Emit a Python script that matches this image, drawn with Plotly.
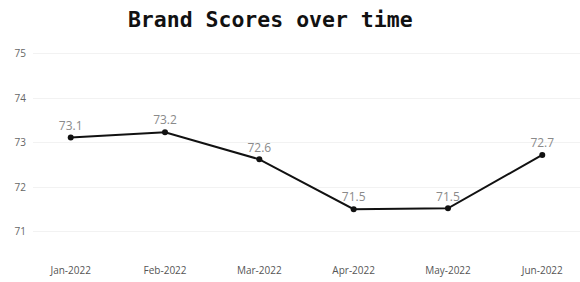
import plotly.graph_objects as go

months = ["Jan-2022", "Feb-2022", "Mar-2022", "Apr-2022", "May-2022", "Jun-2022"]
scores = [73.12, 73.24, 72.63, 71.51, 71.53, 72.73]
labels = ["73.1", "73.2", "72.6", "71.5", "71.5", "72.7"]
y_ticks = [71, 72, 73, 74, 75]

fig = go.Figure(go.Scatter(
    x=months, y=scores, mode="lines+markers+text",
    text=labels, textposition="top center",
    textfont=dict(family="Open Sans", size=12, color="#8a8a8a"),
    line=dict(color="#111111", width=2),
    marker=dict(color="#111111", size=6),
    cliponaxis=False,
))

fig.update_layout(
    width=580, height=282,
    margin=dict(l=33, r=0, t=45, b=27),
    paper_bgcolor="white", plot_bgcolor="white",
    showlegend=False,
    title=dict(text="<b>Brand Scores over time</b>", x=0.466, xanchor="center", y=0.93, yanchor="middle",
               font=dict(family="DejaVu Sans Mono", size=21.5, color="#111111")),
    font=dict(family="Open Sans", size=10, color="#666666"),
)
fig.update_xaxes(range=[-0.4, 5.4], showgrid=False, showline=False, zeroline=False,
                 ticks="", ticklabelstandoff=8, tickfont=dict(size=10, color="#555555"))
fig.update_yaxes(range=[70.48, 75.2], tickvals=y_ticks, showgrid=True, gridcolor="#f2f2f2",
                 zeroline=False, showline=False, ticks="", ticklabelstandoff=6,
                 tickfont=dict(size=10, color="#666666"))

fig.write_html("out.html", config={"displayModeBar": False},
               post_script="document.body.style.margin='0';")
